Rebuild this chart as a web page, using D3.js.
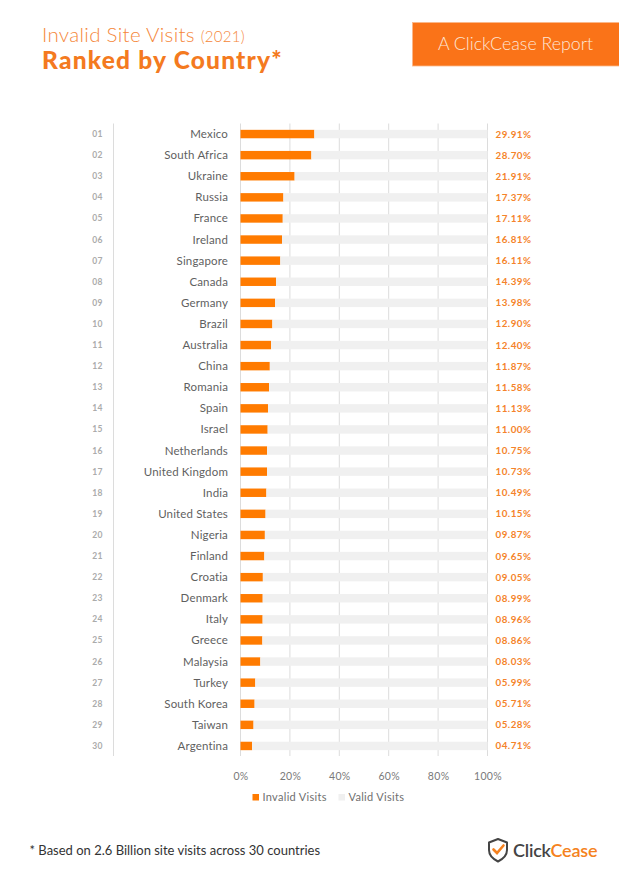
<!DOCTYPE html>
<html>
<head>
<meta charset="utf-8">
<script src="https://cdn.jsdelivr.net/npm/d3@7/dist/d3.min.js"></script>
<style>
  body { margin: 0; background: #fff; }
  svg { display: block; font-family: Lato, "Open Sans", sans-serif; }
</style>
</head>
<body>
<div id="chart"></div>
<script>
const W = 619, H = 879;

// data
const ranks = ["01","02","03","04","05","06","07","08","09","10","11","12","13","14","15",
  "16","17","18","19","20","21","22","23","24","25","26","27","28","29","30"];
const countries = ["Mexico","South Africa","Ukraine","Russia","France","Ireland","Singapore",
  "Canada","Germany","Brazil","Australia","China","Romania","Spain","Israel","Netherlands",
  "United Kingdom","India","United States","Nigeria","Finland","Croatia","Denmark","Italy",
  "Greece","Malaysia","Turkey","South Korea","Taiwan","Argentina"];
const invalid = [29.91,28.70,21.91,17.37,17.11,16.81,16.11,14.39,13.98,12.90,12.40,11.87,
  11.58,11.13,11.00,10.75,10.73,10.49,10.15,9.87,9.65,9.05,8.99,8.96,8.86,8.03,5.99,5.71,5.28,4.71];
const xTicks = [0, 20, 40, 60, 80, 100];
const legendItems = ["Invalid Visits", "Valid Visits"];

const orange = "#ff7b00";
const grey = "#f0f0f0";

const rows = countries.map((c, i) => ({ rank: ranks[i], name: c, invalid: invalid[i], valid: 100 - invalid[i] }));

const svg = d3.select("#chart").append("svg")
  .attr("width", W).attr("height", H);

// header
const title = svg.append("text").attr("x", 42).attr("y", 42)
  .attr("fill", "#f5873a").style("font-weight", 300).style("font-size", "20.5px")
  .style("letter-spacing", "0.3px");
title.append("tspan").text("Invalid Site Visits ");
title.append("tspan").style("font-size", "15px").text("(2021)");

svg.append("text").attr("x", 42).attr("y", 68.5)
  .attr("fill", "#f47a20").style("font-weight", 900).style("font-size", "24.5px")
  .style("letter-spacing", "1.2px")
  .text("Ranked by Country*");

svg.append("rect").attr("x", 412.5).attr("y", 22.5).attr("width", 207).attr("height", 43.5)
  .attr("fill", "#fa7318").attr("stroke", "#fbb98a").attr("stroke-width", 0.8);
svg.append("text").attr("x", 515.5).attr("y", 50).attr("text-anchor", "middle")
  .attr("fill", "#fde6d6").style("font-weight", 300).style("font-size", "17.8px")
  .text("A ClickCease Report");

// scales
const x = d3.scaleLinear().domain([0, 100]).range([240.5, 487.5]);
const y = d3.scaleBand().domain(countries).range([123.5, 756.5]).paddingInner(0.6).paddingOuter(0.3);

// gridlines
svg.append("g").selectAll("line").data(xTicks).join("line")
  .attr("x1", d => x(d)).attr("x2", d => x(d))
  .attr("y1", 123.5).attr("y2", 756)
  .attr("stroke", "#dcdcdc").attr("stroke-width", 1);

// left divider
svg.append("line").attr("x1", 113.5).attr("x2", 113.5).attr("y1", 123.5).attr("y2", 756)
  .attr("stroke", "#dcdcdc");

// stacked bars
const stack = d3.stack().keys(["invalid", "valid"])(rows);
svg.append("g").selectAll("g").data(stack).join("g")
  .attr("fill", (d, i) => i === 0 ? orange : grey)
  .selectAll("rect").data(d => d).join("rect")
  .attr("x", d => x(d[0]))
  .attr("y", d => y(d.data.name))
  .attr("width", d => x(d[1]) - x(d[0]))
  .attr("height", y.bandwidth());

const mid = d => y(d.name) + y.bandwidth() / 2;

// rank numbers
svg.append("g").selectAll("text").data(rows).join("text")
  .attr("x", 97.5).attr("y", d => mid(d) + 3)
  .attr("text-anchor", "middle").attr("fill", "#ababab")
  .style("font-weight", 700).style("font-size", "8.5px").style("letter-spacing", "0.4px")
  .text(d => d.rank);

// country names
svg.append("g").selectAll("text").data(rows).join("text")
  .attr("x", 228).attr("y", d => mid(d) + 4)
  .attr("text-anchor", "end").attr("fill", "#5f5f5f")
  .style("font-size", "11.5px").style("letter-spacing", "0.15px")
  .text(d => d.name);

// percent labels
svg.append("g").selectAll("text").data(rows).join("text")
  .attr("x", 495.5).attr("y", d => mid(d) + 3.5)
  .attr("fill", "#f5832a").style("font-weight", 700).style("font-size", "9.8px")
  .style("letter-spacing", "0.5px")
  .text(d => d3.format("05.2f")(d.invalid) + "%");

// x axis
const axis = svg.append("g").attr("transform", "translate(0,776.5)")
  .call(d3.axisBottom(x).tickValues(xTicks).tickSize(0).tickFormat(d => d + "%"));
axis.select(".domain").remove();
axis.selectAll("text").attr("dy", 0).attr("fill", "#7a7a7a")
  .style("font-family", "Lato, sans-serif").style("font-size", "10.5px").style("letter-spacing", "0.3px");

// legend
const legendX = [252.5, 338.5];
const lg = svg.append("g").selectAll("g").data(legendItems).join("g")
  .attr("transform", (d, i) => `translate(${legendX[i]},794)`);
lg.append("rect").attr("width", 6.5).attr("height", 6.5)
  .attr("fill", (d, i) => i === 0 ? orange : grey);
lg.append("text").attr("x", 10).attr("y", 7).attr("fill", "#6f6f6f")
  .style("font-size", "11px").style("letter-spacing", "0.3px")
  .text(d => d);

// footnote
svg.append("text").attr("x", 29.5).attr("y", 854.5).attr("fill", "#333")
  .style("font-size", "13px")
  .text("* Based on 2.6 Billion site visits across 30 countries");

// logo
const logo = svg.append("g").attr("transform", "translate(488,838)");
logo.append("path")
  .attr("d", "M10,1 L19,4.5 L19,12 C19,17.5 15,21 10,23.5 C5,21 1,17.5 1,12 L1,4.5 Z")
  .attr("fill", "none").attr("stroke", "#444").attr("stroke-width", 2).attr("stroke-linejoin", "round");
logo.append("path")
  .attr("d", "M5.5,11.5 L9,15 L15.5,7.5")
  .attr("fill", "none").attr("stroke", "#f58220").attr("stroke-width", 2.6).attr("stroke-linecap", "round");
const lt = logo.append("text").attr("x", 25).attr("y", 19)
  .style("font-size", "18px").style("font-weight", 600).style("letter-spacing", "-0.2px");
lt.append("tspan").attr("fill", "#444").text("Click");
lt.append("tspan").attr("fill", "#f58220").text("Cease");
</script>
</body>
</html>
